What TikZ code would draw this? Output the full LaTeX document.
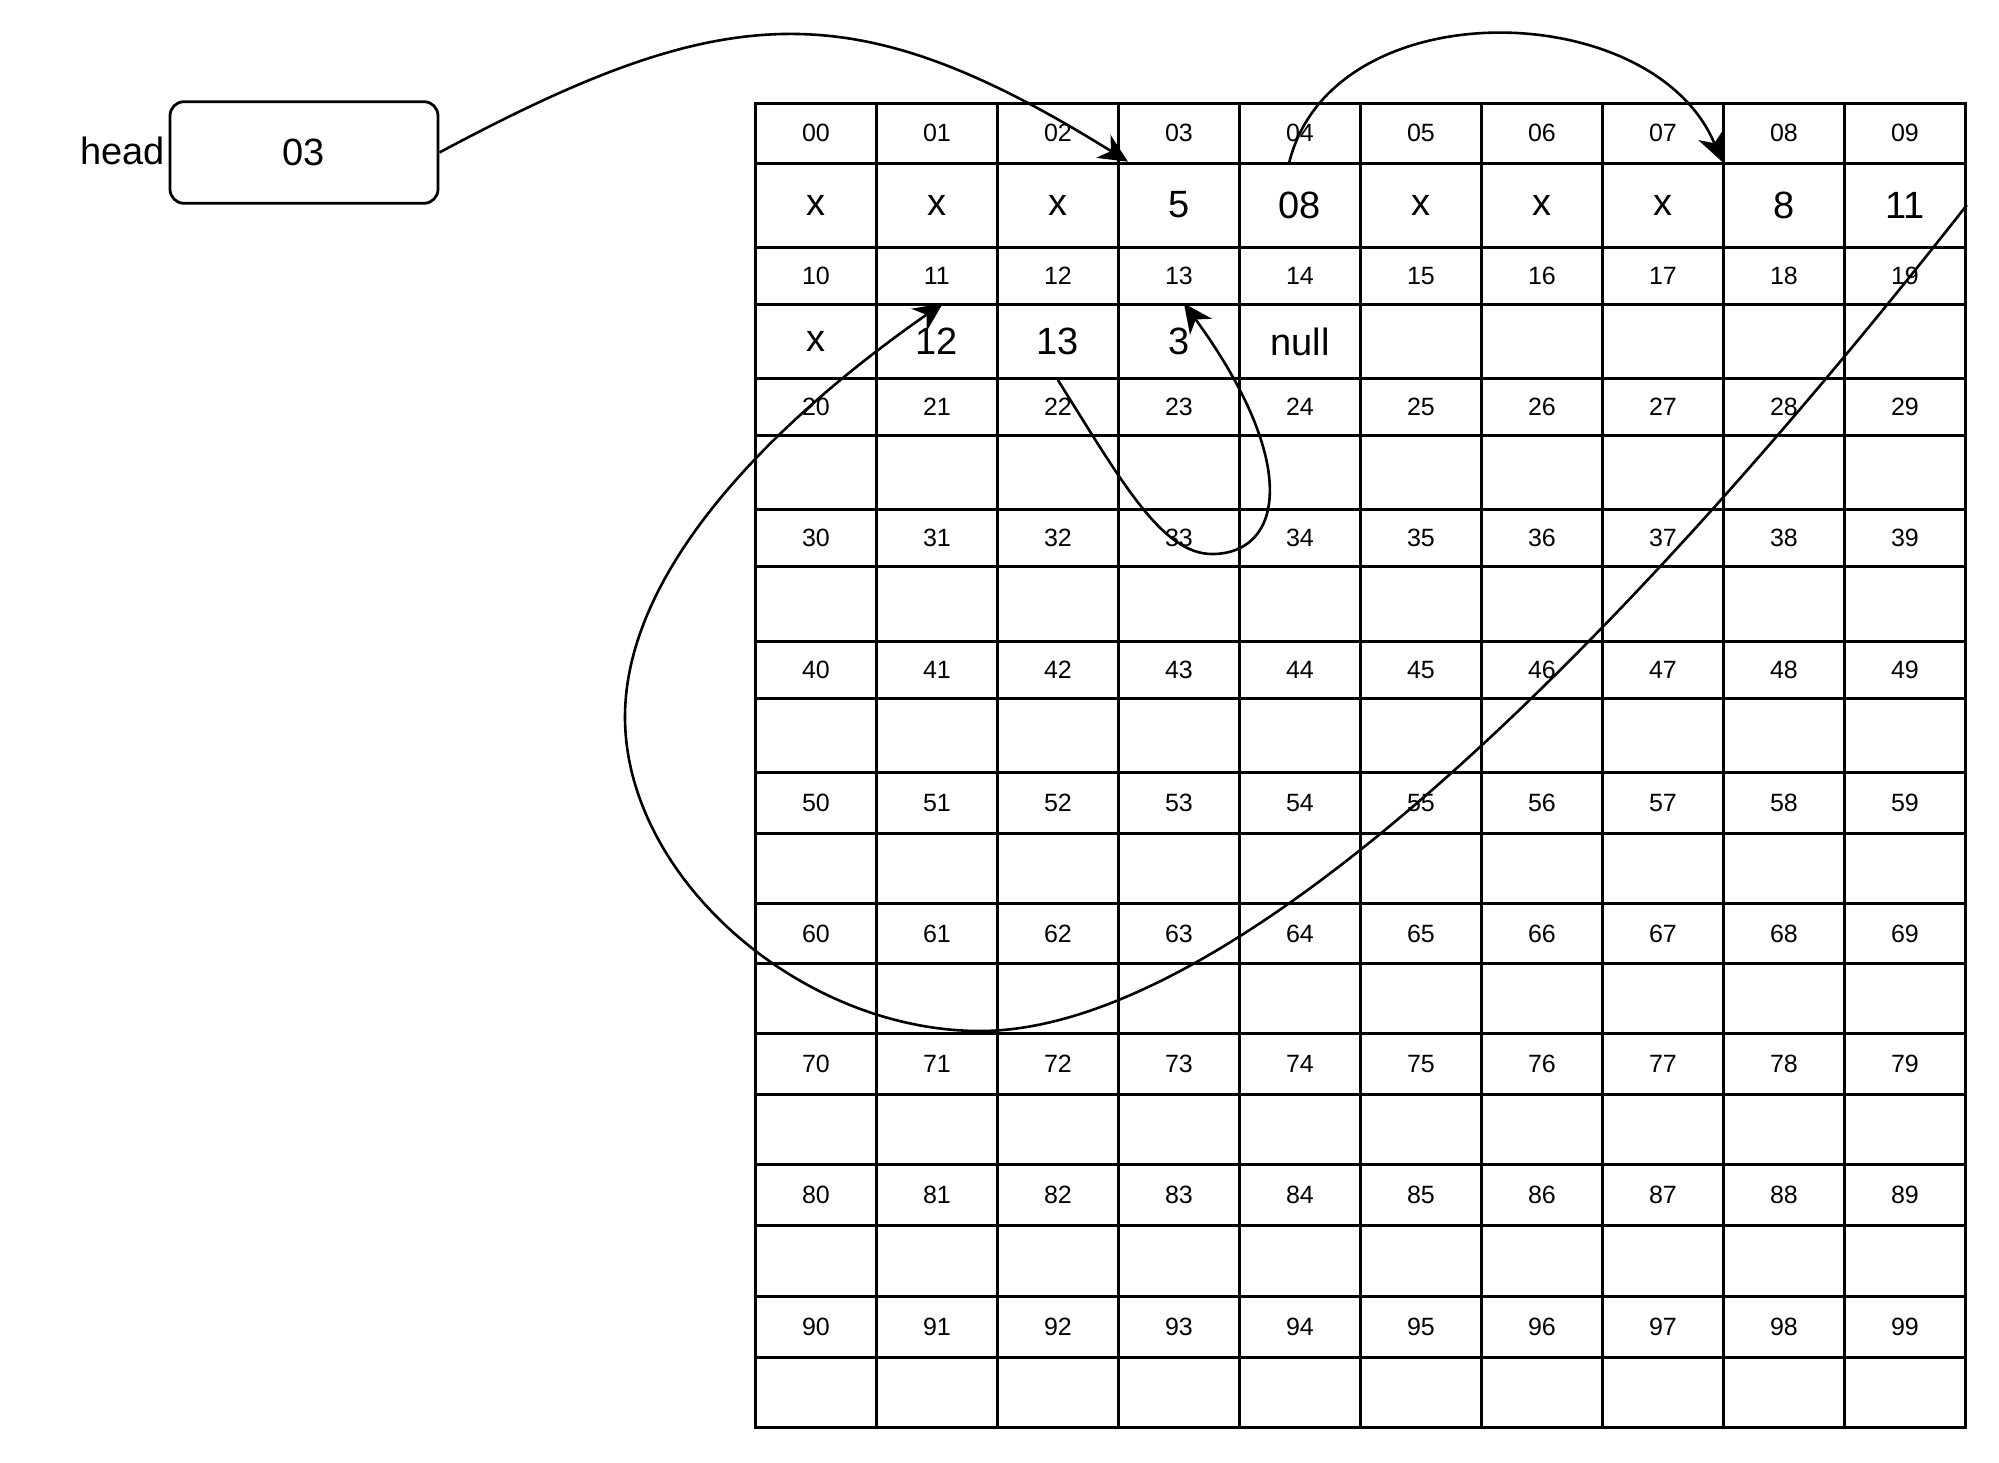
\documentclass[tikz,border=0pt]{standalone}
\usepackage{fontspec}
\setmainfont{Liberation Sans}
\usetikzlibrary{arrows.meta,calc}
\begin{document}
\begin{tikzpicture}[x=1pt,y=-1pt,
  cellbox/.style={draw, line width=2.8pt, inner sep=0pt, minimum width=121pt, anchor=north west},
  lbl/.style={cellbox, font=\fontsize{25}{30}\selectfont},
  val/.style={cellbox, font=\fontsize{38}{45}\selectfont},
  conn/.style={line width=2.6pt, -{Stealth[length=29pt,width=27pt,inset=9pt]}}]
\useasboundingbox (0,0) rectangle (1999,1462);

% label rows
\foreach \r/\t/\m in {0/101.7/161.7, 1/245.7/303.3, 2/377.3/433.7, 3/508.3/565, 4/640/696.7,
                      5/770.7/831.7, 6/901.7/962.3, 7/1032.3/1092.7, 8/1163.3/1224, 9/1295/1355.7}{
  \foreach \c in {0,...,9}{
    \node[lbl, minimum height={(\m-\t)*1pt}] (l\r\c) at ({754+121*\c},\t) {\r\c};
  }
}
% value rows 0 and 1
\foreach \c/\v in {0/x,1/x,2/x,3/5,4/08,5/x,6/x,7/x,8/8,9/11}
  \node[val, minimum height=84pt] (v0\c) at ({754+121*\c},161.7) {\v};
\foreach \c/\v in {0/x,1/12,2/13,3/3,4/null,5/,6/,7/,8/,9/}
  \node[val, minimum height=74pt] (v1\c) at ({754+121*\c},303.3) {\v};
% empty value rows
\foreach \r/\m/\b in {2/433.7/508.3, 3/565/640, 4/696.7/770.7, 5/831.7/901.7, 6/962.3/1032.3,
                      7/1092.7/1163.3, 8/1224/1295, 9/1355.7/1425.7}{
  \foreach \c in {0,...,9}{
    \node[val, minimum height={(\b-\m)*1pt}] (v\r\c) at ({754+121*\c},\m) {};
  }
}

% head
\node[draw, line width=2.8pt, rounded corners=14pt, minimum width=268pt, minimum height=101.6pt,
      inner sep=0pt, font=\fontsize{38}{45}\selectfont] (headbox) at (304,152.5) {03};
\node[anchor=base east, inner sep=0pt, font=\fontsize{38}{45}\selectfont] (headlabel) at (165,164) {head};

% connectors
\draw[conn] (headbox.east) .. controls +(286,-153) and +(-276,-172) .. ($(v03.north west)+(11,0)$);
\draw[conn] ($(v04.north)+(-11,2)$) .. controls +(42,-175) and +(-69,-166) .. (v08.north west);

\coordinate (loopbottom) at (980,1031);
\coordinate (loopleft) at (625,717);
\draw[conn] (v09.east) .. controls +(-422,537) and +(220,0) .. (loopbottom)
  .. controls +(-180,0) and +(0,160) .. (loopleft)
  .. controls +(0,-150) and +(-164,114) .. ($(v11.north)+(6,0)$);

\coordinate (smallbottom) at (1212,554);
\draw[conn] (v12.south) .. controls +(64,102) and +(-50,0) .. (smallbottom)
  .. controls +(70,0) and +(118,162) .. ($(v13.north)+(5,0)$);
\end{tikzpicture}
\end{document}
